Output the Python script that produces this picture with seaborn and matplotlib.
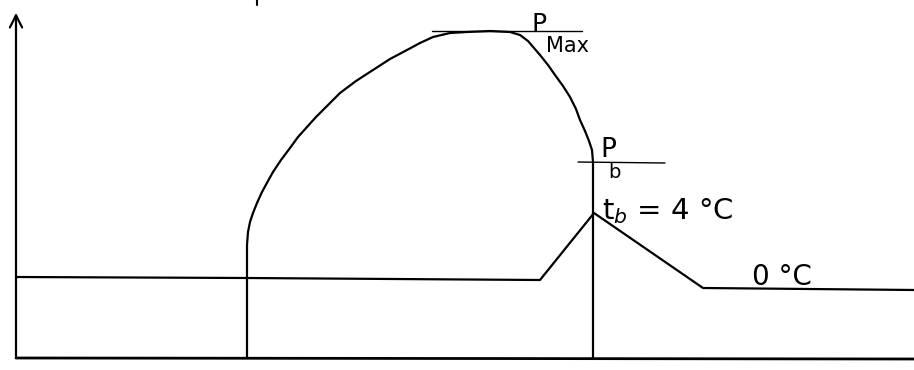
import matplotlib
matplotlib.use("Agg")
import matplotlib.pyplot as plt
import seaborn as sns
import pandas as pd

# sketch coordinates (x to the right, y downward)
pressure_x = [247, 247, 248, 250, 253, 257, 262, 268, 273, 281, 290, 298, 307,
              316, 325, 333, 340, 356, 373, 390, 407, 420, 433, 450, 467, 490,
              510, 520, 528, 540, 548, 555, 563, 570, 576, 580, 585, 589, 592,
              593, 593]
pressure_y = [358, 245, 232, 222, 213, 203, 192, 181, 172, 160, 148, 137, 127,
              117, 108, 100, 93, 81, 70, 59, 50, 43, 37, 33, 32, 31,
              32, 35, 41, 55, 65, 75, 86, 97, 109, 120, 131, 141, 150,
              162, 358]

temp_x = [16, 247, 540, 594, 703, 914]
temp_y = [277, 278, 280, 213, 288, 290]

pmax_x = [432, 582]
pmax_y = [31, 31]
pb_x = [578, 665]
pb_y = [162, 163]

base_x = [16, 914]
base_y = [358, 359]

labels = ["P", "Max", "P", "b", "t$_{b}$ = 4 °C", "0 °C"]

sns.set_theme(style="white")
plt.rcParams['font.family'] = ['DejaVu Sans']

fig = plt.figure(figsize=(9.14, 3.70), dpi=100)
ax = fig.add_axes([0, 0, 1, 1])

lw = 1.6
for xs, ys, w in [(pressure_x, pressure_y, lw), (temp_x, temp_y, lw),
                  (base_x, base_y, lw + 0.4), (pmax_x, pmax_y, 1.0),
                  (pb_x, pb_y, 1.0)]:
    df = pd.DataFrame({"x": xs, "y": ys})
    sns.lineplot(data=df, x="x", y="y", sort=False, estimator=None,
                 color="black", linewidth=w, ax=ax,
                 solid_joinstyle="round", solid_capstyle="round")

# vertical axis with arrow
ax.annotate("", xy=(16, 10), xytext=(16, 359),
            arrowprops=dict(arrowstyle="->", color="black", lw=lw,
                            mutation_scale=22))
# small cut-off mark at top
ax.plot([257, 257], [0, 5], color="black", lw=1.5)

ax.text(532, 31, labels[0], fontsize=18, color="black")
ax.text(546, 52, labels[1], fontsize=15, color="black")
ax.text(600, 157, labels[2], fontsize=19, color="black")
ax.text(608, 178, labels[3], fontsize=14, color="black")
ax.text(602, 219, labels[4], fontsize=21, color="black")
ax.text(752, 285, labels[5], fontsize=20, color="black")

ax.set_xlim(0, 914)
ax.set_ylim(370, 0)
ax.set_xlabel("")
ax.set_ylabel("")
ax.set_xticks([])
ax.set_yticks([])
for s in ax.spines.values():
    s.set_visible(False)
ax.set_facecolor("white")

fig.savefig("out.png", dpi=100, facecolor="white")
